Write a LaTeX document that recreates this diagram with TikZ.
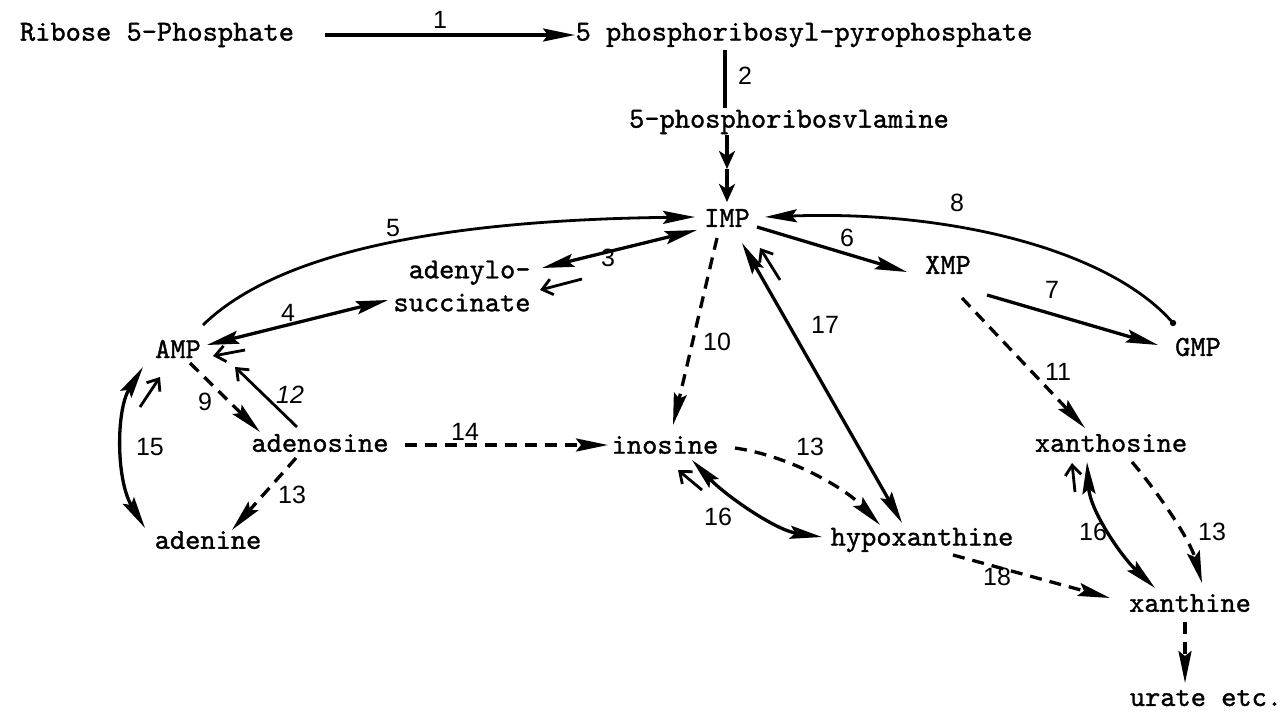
\documentclass[tikz,border=0pt]{standalone}
\usepackage{fontspec}
\newfontfamily\labfont{Liberation Sans}
\newfontfamily\molfont[FakeBold=1.2]{lmmono10-regular.otf}
\usetikzlibrary{arrows.meta,calc}
\tikzset{
  mol/.style={font=\molfont\fontsize{29}{33}\selectfont, inner sep=0pt, anchor=center},
  lab/.style={font=\labfont\fontsize{25}{27}\selectfont, inner sep=0pt, anchor=center},
  conn/.style={line width=3.3pt},
  thin/.style={line width=2.8pt},
  dsh/.style={line width=3.3pt, dash pattern=on 12pt off 8pt},
  hd/.style={-{Stealth[length=32pt,width=13pt,inset=5pt]}},
  bhd/.style={{Stealth[length=32pt,width=13pt,inset=5pt]}-{Stealth[length=32pt,width=13pt,inset=5pt]}},
  dbl/.style={-{Stealth[length=18pt,width=16pt,inset=5pt]}},
  small/.style={line width=2.8pt, -{Straight Barb[length=10pt,width=16pt]}},
}
\begin{document}
\begin{tikzpicture}[x=1pt,y=-1pt]
\useasboundingbox (0,0) rectangle (1284,712);
% molecules
\node[mol] (rib) at (157,35) {Ribose 5-Phosphate};
\node[mol] (prpp) at (804,35) {5 phosphoribosyl-pyrophosphate};
\node[mol] (pra) at (789,122) {5-phosphoribosvlamine};
\node[mol] (imp) at (727,218) {IMP};
\node[mol] (xmp) at (948,265) {XMP};
\node[mol] (gmp) at (1198,347) {GMP};
\node[mol, align=right] (ads) at (462,286) {adenylo-\\succinate};
\node[mol] (amp) at (178,349) {AMP};
\node[mol] (adn) at (320,443) {adenosine};
\node[mol] (ade) at (208,540) {adenine};
\node[mol] (ino) at (665,445) {inosine};
\node[mol] (hyp) at (922,540) {hypoxanthine};
\node[mol] (xao) at (1111,443) {xanthosine};
\node[mol] (xan) at (1190,603) {xanthine};
\node[mol] (ura) at (1206,698) {urate etc.};
\coordinate (pmid) at ($(pra)+(-62,47)$);
% connectors
\draw[conn,hd] ($(rib)+(168,0)$) -- ($(prpp)+(-229,0)$);
\draw[conn] ($(prpp)+(-79,15)$) -- ($(pra)+(-64,-14)$);
\draw[conn,dbl] ($(pra)+(-62,13)$) -- (pmid);
\draw[conn,dbl] (pmid) -- ($(imp)+(0,-16)$);
\draw[conn,bhd] ($(ads)+(80,-18)$) -- ($(imp)+(-30,12)$);
\draw[small] ($(ads)+(120,-7)$) -- ($(ads)+(78,4)$);
\draw[thin,hd] ($(amp)+(25,-24)$) .. controls (280,250) and (450,220) .. ($(imp)+(-32,-1)$);
\draw[conn,bhd] ($(amp)+(29,-4)$) -- ($(ads)+(-74,14)$);
\draw[small] ($(amp)+(67,1)$) -- ($(amp)+(35,7)$);
\draw[small] ($(adn)+(-23,-16)$) -- ($(amp)+(57,18)$);
\draw[dsh,hd] ($(amp)+(12,14)$) -- ($(adn)+(-60,-11)$);
\draw[conn,bhd] ($(amp)+(-35,18)$) .. controls (116,410) and (116,480) .. ($(ade)+(-63,-12)$);
\draw[small] ($(amp)+(-38,58)$) -- ($(amp)+(-18,28)$);
\draw[dsh,hd] ($(adn)+(-24,15)$) -- ($(ade)+(24,-10)$);
\draw[dsh,hd] ($(adn)+(85,2)$) -- ($(ino)+(-57,0)$);
\draw[dsh,hd] ($(imp)+(-10,20)$) -- ($(ino)+(8,-20)$);
\draw[conn,bhd] ($(imp)+(15,25)$) -- ($(hyp)+(-20,-17)$);
\draw[small] ($(imp)+(53,62)$) -- ($(imp)+(33,30)$);
\draw[dsh,hd] ($(ino)+(70,3)$) .. controls (790,456) and (845,488) .. ($(hyp)+(-42,-15)$);
\draw[conn,bhd] ($(ino)+(27,15)$) .. controls (725,495) and (775,530) .. ($(hyp)+(-100,-3)$);
\draw[small] ($(ino)+(37,45)$) -- ($(ino)+(13,25)$);
\draw[conn,hd] ($(imp)+(30,9)$) -- ($(xmp)+(-41,7)$);
\draw[thin,hd] ($(gmp)+(-25,-24)$) .. controls (1110,250) and (950,210) .. ($(imp)+(38,-1)$);
\fill ($(gmp)+(-25,-24)$) circle (3.2pt);
\draw[conn,hd] ($(xmp)+(39,30)$) -- ($(gmp)+(-40,-2)$);
\draw[dsh,hd] ($(xmp)+(14,33)$) -- ($(xao)+(-26,-15)$);
\draw[dsh,hd] ($(xao)+(21,19)$) .. controls (1160,495) and (1190,540) .. ($(xan)+(12,-20)$);
\draw[conn,bhd] ($(xao)+(-24,19)$) .. controls (1090,510) and (1120,555) .. ($(xan)+(-35,-15)$);
\draw[small] ($(xao)+(-36,49)$) -- ($(xao)+(-39,20)$);
\draw[dsh,hd] ($(hyp)+(31,15)$) -- ($(xan)+(-80,-5)$);
\draw[dsh,hd] ($(xan)+(-5,19)$) -- ($(ura)+(-21,-15)$);
% labels
\node[lab] (l1) at (440,20) {1};
\node[lab] (l2) at (745,76) {2};
\node[lab] (l3) at (608,258) {3};
\node[lab] (l5) at (393,228) {5};
\node[lab] (l4) at (288,313) {4};
\node[lab,font=\labfont\itshape\fontsize{25}{27}\selectfont] (l12) at (290,395) {12};
\node[lab] (l9) at (205,402) {9};
\node[lab] (l15) at (150,447) {15};
\node[lab] (l13a) at (292,495) {13};
\node[lab] (l14) at (465,432) {14};
\node[lab] (l10) at (717,342) {10};
\node[lab] (l17) at (825,325) {17};
\node[lab] (l13b) at (810,447) {13};
\node[lab] (l16a) at (718,517) {16};
\node[lab] (l6) at (847,238) {6};
\node[lab] (l8) at (957,203) {8};
\node[lab] (l7) at (1052,290) {7};
\node[lab] (l11) at (1058,372) {11};
\node[lab] (l13c) at (1212,532) {13};
\node[lab] (l16b) at (1093,532) {16};
\node[lab] (l18) at (997,577) {18};
\end{tikzpicture}
\end{document}
